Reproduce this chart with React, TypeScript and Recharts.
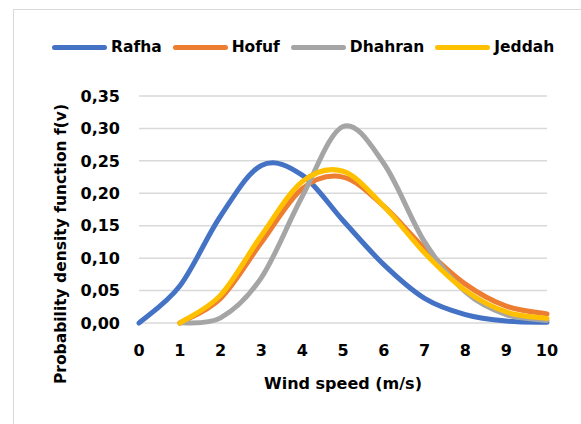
import React from "react";
import { LineChart, Line, XAxis, YAxis, CartesianGrid } from "recharts";

const windSpeeds = [0, 1, 2, 3, 4, 5, 6, 7, 8, 9, 10];
const rafha = [0, 0.057, 0.165, 0.243, 0.228, 0.158, 0.09, 0.038, 0.013, 0.003, 0.001];
const hofuf = [null, 0, 0.038, 0.124, 0.207, 0.225, 0.18, 0.115, 0.06, 0.026, 0.014];
const dhahran = [null, 0, 0.008, 0.07, 0.195, 0.303, 0.246, 0.125, 0.048, 0.013, 0.004];
const jeddah = [null, 0, 0.043, 0.135, 0.218, 0.234, 0.18, 0.108, 0.05, 0.017, 0.007];
const yTicks = [0, 0.05, 0.1, 0.15, 0.2, 0.25, 0.3, 0.35];

const series = [
  { key: "rafha", name: "Rafha", color: "#4472C4" },
  { key: "hofuf", name: "Hofuf", color: "#ED7D31" },
  { key: "dhahran", name: "Dhahran", color: "#A5A5A5" },
  { key: "jeddah", name: "Jeddah", color: "#FFC000" },
];

const data = windSpeeds.map((x, i) => ({
  x,
  rafha: rafha[i],
  hofuf: hofuf[i],
  dhahran: dhahran[i],
  jeddah: jeddah[i],
}));

// smoothed line like the spreadsheet one (catmull-rom through the points)
const smoothCurve = (context: any) => {
  let pts: number[][] = [];
  return {
    areaStart() {},
    areaEnd() {},
    lineStart() {
      pts = [];
    },
    point(x: number, y: number) {
      pts.push([+x, +y]);
    },
    lineEnd() {
      const n = pts.length;
      if (!n) return;
      context.moveTo(pts[0][0], pts[0][1]);
      for (let i = 0; i < n - 1; i++) {
        const p0 = pts[i - 1] || pts[i];
        const p1 = pts[i];
        const p2 = pts[i + 1];
        const p3 = pts[i + 2] || p2;
        context.bezierCurveTo(
          p1[0] + (p2[0] - p0[0]) / 6,
          p1[1] + (p2[1] - p0[1]) / 6,
          p2[0] - (p3[0] - p1[0]) / 6,
          p2[1] - (p3[1] - p1[1]) / 6,
          p2[0],
          p2[1]
        );
      }
    },
  };
};

const FONT = '"DejaVu Sans", sans-serif';
const fmt = (v: number) => v.toFixed(2).replace(".", ",");

export default function App() {
  return (
    <div
      style={{
        position: "fixed",
        left: 0,
        top: 0,
        width: 581,
        height: 424,
        overflow: "hidden",
        background: "#fff",
        fontFamily: FONT,
        fontWeight: "bold",
        color: "#000",
      }}
    >
      <div
        style={{
          position: "absolute",
          left: 13,
          top: 9,
          width: 700,
          height: 600,
          border: "1.5px solid #d9d9d9",
        }}
      />

      <div
        style={{
          position: "absolute",
          left: 52,
          top: 38,
          display: "flex",
          alignItems: "center",
          fontSize: 15.5,
          whiteSpace: "nowrap",
        }}
      >
        {series.map((s) => (
          <span key={s.key} style={{ display: "flex", alignItems: "center", marginRight: 11 }}>
            <span
              style={{
                width: 55,
                height: 5,
                borderRadius: 3,
                background: s.color,
                marginRight: 4,
              }}
            />
            {s.name}
          </span>
        ))}
      </div>

      <LineChart
        width={581}
        height={424}
        data={data}
        margin={{ top: 96, right: 34, bottom: 71, left: 0 }}
        style={{ position: "absolute", left: 0, top: 0 }}
      >
        <CartesianGrid vertical={false} stroke="#d9d9d9" strokeWidth={1.5} />
        <XAxis
          dataKey="x"
          type="number"
          domain={[0, 10]}
          ticks={windSpeeds}
          height={30}
          axisLine={false}
          tickLine={false}
          tickSize={0}
          tickMargin={22}
          tick={{ fontSize: 16, fontWeight: "bold", fill: "#000", fontFamily: FONT }}
        />
        <YAxis
          type="number"
          domain={[0, 0.35]}
          ticks={yTicks}
          width={139}
          axisLine={false}
          tickLine={false}
          tickSize={0}
          tickMargin={19}
          tickFormatter={fmt}
          tick={{ fontSize: 16, fontWeight: "bold", fill: "#000", fontFamily: FONT }}
        />
        {series.map((s) => (
          <Line
            key={s.key}
            dataKey={s.key}
            name={s.name}
            type={smoothCurve as any}
            stroke={s.color}
            strokeWidth={5}
            strokeLinecap="round"
            dot={false}
            activeDot={false}
            isAnimationActive={false}
          />
        ))}
      </LineChart>

      <div
        style={{
          position: "absolute",
          left: 343,
          top: 383,
          transform: "translate(-50%, -50%)",
          fontSize: 16,
          whiteSpace: "nowrap",
        }}
      >
        Wind speed (m/s)
      </div>
      <div
        style={{
          position: "absolute",
          left: 61,
          top: 243.5,
          transform: "translate(-50%, -50%) rotate(-90deg)",
          fontSize: 15.5,
          whiteSpace: "nowrap",
        }}
      >
        Probability density function f(v)
      </div>
    </div>
  );
}
